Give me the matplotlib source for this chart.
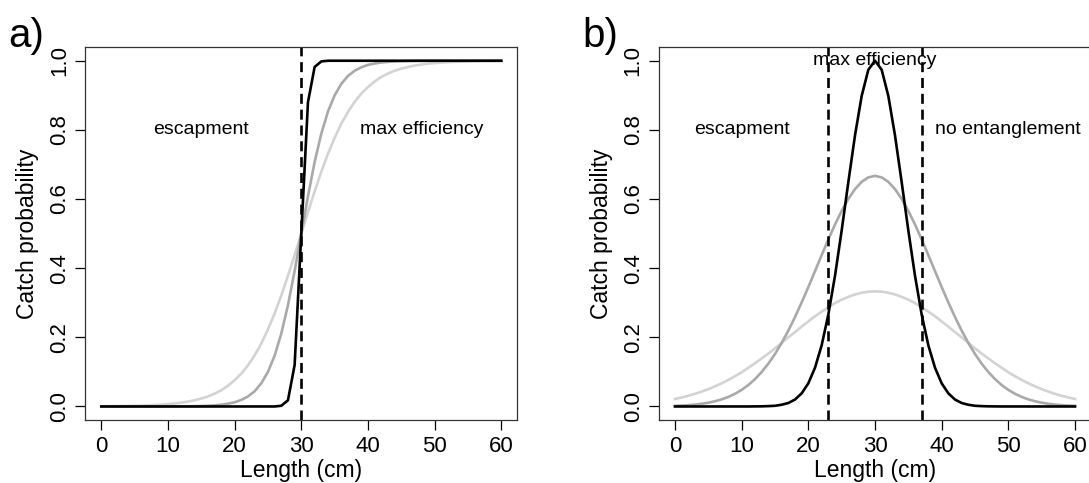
import matplotlib
matplotlib.use("Agg")
import matplotlib.pyplot as plt

plt.rcParams['font.family'] = ['Liberation Sans', 'DejaVu Sans']

# longueurs (cm), pas de 1 cm
length = list(range(61))

# a) courbes logistiques
logit_steep = [0.0] * 27 + [0.002, 0.018, 0.12, 0.5, 0.88, 0.982, 0.998] + [1.0] * 27
logit_mid = ([0.0] * 10 +
             [0.0002, 0.0002, 0.0004, 0.0006, 0.0009, 0.0014, 0.0021, 0.0033, 0.005, 0.008,
              0.012, 0.019, 0.029, 0.044, 0.067, 0.100, 0.147, 0.211, 0.293, 0.392,
              0.5, 0.608, 0.707, 0.789, 0.853, 0.900, 0.933, 0.956, 0.971, 0.981,
              0.988, 0.992, 0.995, 0.9967, 0.9979, 0.9986, 0.9991, 0.9994, 0.9996, 0.9998,
              0.9998] +
             [1.0] * 10)
logit_flat = [0.0006, 0.0007, 0.0009, 0.0012, 0.0015, 0.0019, 0.0025, 0.0032, 0.0041, 0.0052,
              0.0067, 0.0086, 0.011, 0.014, 0.018, 0.023, 0.029, 0.037, 0.047, 0.060,
              0.076, 0.095, 0.119, 0.148, 0.182, 0.223, 0.269, 0.321, 0.378, 0.438,
              0.5, 0.562, 0.622, 0.679, 0.731, 0.777, 0.818, 0.852, 0.881, 0.905,
              0.924, 0.940, 0.953, 0.963, 0.971, 0.977, 0.982, 0.986, 0.989, 0.9914,
              0.9933, 0.9948, 0.9959, 0.9968, 0.9975, 0.9981, 0.9985, 0.9988, 0.9991, 0.9993,
              0.9994]

# b) courbes en cloche
bell_narrow = ([0.0] * 12 +
               [0.0002, 0.0004, 0.001, 0.002, 0.005, 0.010, 0.020, 0.038, 0.067, 0.112,
                0.177, 0.266, 0.378, 0.509, 0.649, 0.784, 0.898, 0.974,
                1.0,
                0.974, 0.898, 0.784, 0.649, 0.509, 0.378, 0.266, 0.177, 0.112, 0.067,
                0.038, 0.020, 0.010, 0.005, 0.002, 0.001, 0.0004, 0.0002] +
               [0.0] * 12)
bell_mid = [0.0018, 0.0026, 0.0038, 0.0055, 0.0078, 0.0109, 0.0151, 0.0205, 0.0276, 0.0367,
            0.048, 0.062, 0.0792, 0.0997, 0.1238, 0.1518, 0.1837, 0.2194, 0.2586, 0.3009,
            0.3454, 0.3915, 0.4378, 0.4832, 0.5263, 0.5658, 0.6004, 0.6286, 0.6497, 0.6626,
            0.667,
            0.6626, 0.6497, 0.6286, 0.6004, 0.5658, 0.5263, 0.4832, 0.4378, 0.3915, 0.3454,
            0.3009, 0.2586, 0.2194, 0.1837, 0.1518, 0.1238, 0.0997, 0.0792, 0.062, 0.048,
            0.0367, 0.0276, 0.0205, 0.0151, 0.0109, 0.0078, 0.0055, 0.0038, 0.0026, 0.0018]
bell_wide = [0.0218, 0.026, 0.0309, 0.0366, 0.0429, 0.0501, 0.0582, 0.0671, 0.0768, 0.0875,
             0.099, 0.112, 0.125, 0.139, 0.153, 0.168, 0.184, 0.200, 0.215, 0.231,
             0.246, 0.261, 0.274, 0.287, 0.299, 0.309, 0.317, 0.324, 0.329, 0.332,
             0.333,
             0.332, 0.329, 0.324, 0.317, 0.309, 0.299, 0.287, 0.274, 0.261, 0.246,
             0.231, 0.215, 0.200, 0.184, 0.168, 0.153, 0.139, 0.125, 0.112, 0.099,
             0.0875, 0.0768, 0.0671, 0.0582, 0.0501, 0.0429, 0.0366, 0.0309, 0.026, 0.0218]

cut_a = [30]
cut_b = [23, 37]

yticks = [0.0, 0.2, 0.4, 0.6, 0.8, 1.0]
xticks = [0, 10, 20, 30, 40, 50, 60]

fig = plt.figure(figsize=(10.89, 4.83), dpi=100)
W, H = 1089.0, 483.0
ax1 = fig.add_axes([85.3 / W, (H - 420.3) / H, 432 / W, 373.4 / H])
ax2 = fig.add_axes([659.0 / W, (H - 420.3) / H, 432 / W, 373.4 / H])

def habille(ax):
    ax.set_xlim(-2.4, 62.4)
    ax.set_ylim(-0.04, 1.04)
    ax.set_xticks(xticks)
    ax.set_yticks(yticks)
    ax.set_yticklabels(['%.1f' % v for v in yticks], rotation=90, va='center')
    ax.tick_params(direction='out', length=7, width=0.9, labelsize=16, pad=4, colors='black')
    for s in ax.spines.values():
        s.set_linewidth(0.9)
        s.set_color('#333333')
    ax.set_xlabel('Length (cm)', fontsize=16.5)
    ax.set_ylabel('Catch probability', fontsize=16.5)
    ax.xaxis.set_label_coords(0.5, -0.104)
    ax.yaxis.set_label_coords(-0.107, 0.5)

lw = 1.9
ax1.plot(length, logit_flat, color='#d3d3d3', lw=lw)
ax1.plot(length, logit_mid, color='#a9a9a9', lw=lw)
ax1.plot(length, logit_steep, color='black', lw=lw)
for c in cut_a:
    ax1.axvline(c, color='black', lw=lw, dashes=(3.8, 2.2))
ax1.text(15, 0.8, 'escapment', fontsize=14, ha='center', va='center')
ax1.text(48, 0.8, 'max efficiency', fontsize=14, ha='center', va='center')
habille(ax1)

ax2.plot(length, bell_wide, color='#d3d3d3', lw=lw)
ax2.plot(length, bell_mid, color='#a9a9a9', lw=lw)
ax2.plot(length, bell_narrow, color='black', lw=lw)
for c in cut_b:
    ax2.axvline(c, color='black', lw=lw, dashes=(3.8, 2.2))
ax2.text(10, 0.8, 'escapment', fontsize=14, ha='center', va='center')
ax2.text(50, 0.8, 'no entanglement', fontsize=14, ha='center', va='center')
ax2.text(30, 1.0, 'max efficiency', fontsize=14, ha='center', va='center')
habille(ax2)

fig.text(8 / W, 1 - 36 / H, 'a)', fontsize=29, va='center', ha='left')
fig.text(582 / W, 1 - 36 / H, 'b)', fontsize=29, va='center', ha='left')

fig.savefig('out.png', dpi=100)
